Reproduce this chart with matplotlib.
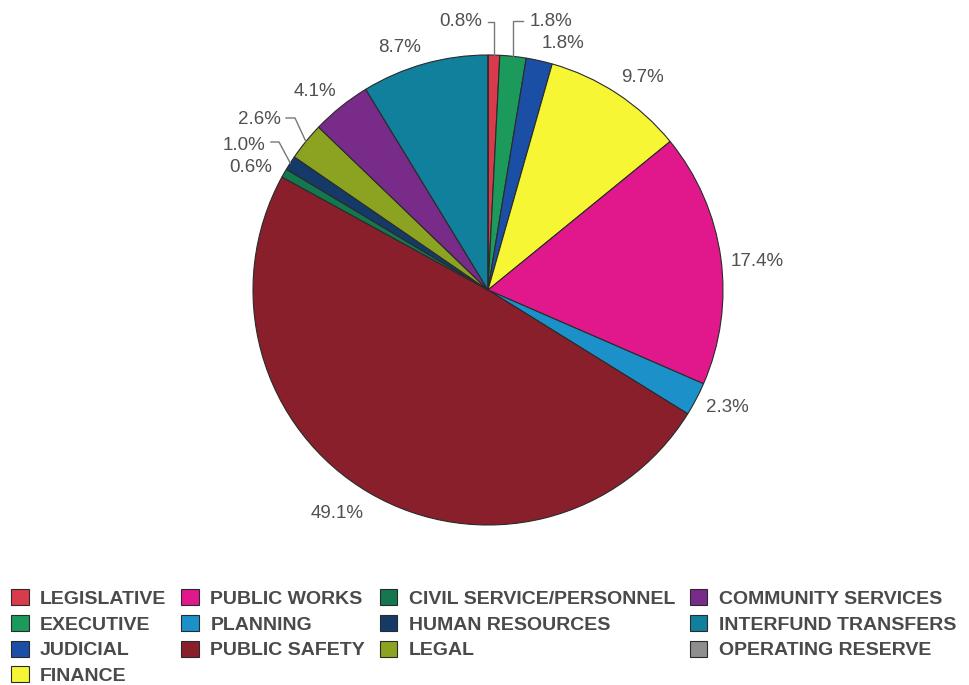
import matplotlib.pyplot as plt
import numpy as np

plt.rcParams['font.family'] = ['Liberation Sans', 'DejaVu Sans']

departments = [
    'LEGISLATIVE', 'EXECUTIVE', 'JUDICIAL', 'FINANCE', 'PUBLIC WORKS',
    'PLANNING', 'PUBLIC SAFETY', 'CIVIL SERVICE/PERSONNEL', 'HUMAN RESOURCES',
    'LEGAL', 'COMMUNITY SERVICES', 'INTERFUND TRANSFERS', 'OPERATING RESERVE',
]
shares = [0.8, 1.8, 1.8, 9.7, 17.4, 2.3, 49.1, 0.6, 1.0, 2.6, 4.1, 8.7, 0.0]
colors = [
    '#d93a4c', '#1c9a5c', '#1b4fa6', '#f6f634', '#e0188c',
    '#1c91c9', '#8a1f2c', '#13784f', '#163a68',
    '#8ca322', '#782b88', '#10809c', '#8e8e8e',
]

W, H = 969, 685
CX, CY, R = 488, 290, 235

fig = plt.figure(figsize=(W / 100, H / 100), dpi=100)
ax = fig.add_axes([0, 0, 1, 1])


def px(x, y):
    return (x - CX) / R, (CY - y) / R


wedges, _ = ax.pie(
    shares,
    colors=colors,
    startangle=90,
    counterclock=False,
    radius=1,
    wedgeprops=dict(edgecolor='#2a2a2a', linewidth=0.8),
)
# pie resets the limits, so set them afterwards
ax.set_xlim(-CX / R, (W - CX) / R)
ax.set_ylim((CY - H) / R, CY / R)
ax.set_aspect('equal')
ax.axis('off')

txt = dict(fontsize=13.5, color='#505050', va='center')

# label spots (pixels) and alignment
label_spots = [
    (482, 22, 'right'), (530, 22, 'left'), (563, 43, 'center'),
    (643, 77, 'center'), (757, 261, 'center'), (727, 407, 'center'),
    (337, 513, 'center'), (251, 168, 'center'), (244, 145, 'center'),
    (259, 120, 'center'), (315, 92, 'center'), (400, 48, 'center'),
]
for val, (x, y, ha) in zip(shares, label_spots):
    ax.text(*px(x, y), f'{val:.1f}%', ha=ha, **txt)


def edge(w):
    a = np.deg2rad((w.theta1 + w.theta2) / 2)
    return np.cos(a), np.sin(a)


line = dict(color='#777777', lw=1)
# leader lines for the thin slices
ex, ey = edge(wedges[0])
x0, y0 = px(488, 22)
ax.plot([x0, ex, ex], [y0, y0, ey], **line)
ex, ey = edge(wedges[1])
x0, y0 = px(523, 21)
ax.plot([x0, ex, ex], [y0, y0, ey], **line)
ex, ey = edge(wedges[9])
x0, y0 = px(286, 118)
x1, _ = px(295, 118)
ax.plot([x0, x1, ex], [y0, y0, ey], **line)
ex, ey = edge(wedges[8])
x0, y0 = px(271, 142)
x1, _ = px(279, 142)
ax.plot([x0, x1, ex], [y0, y0, ey], **line)

fig.legend(
    wedges, departments, ncol=4, loc='upper left',
    bbox_to_anchor=(11 / W, 1 - 589 / H), frameon=False,
    prop=dict(size=14, weight='bold'), labelcolor='#4a4a4a',
    handlelength=0.9, handleheight=0.9, handletextpad=0.6,
    columnspacing=0.75, labelspacing=0.36, borderpad=0, borderaxespad=0,
)

fig.savefig('out.png', dpi=100, facecolor='white')
